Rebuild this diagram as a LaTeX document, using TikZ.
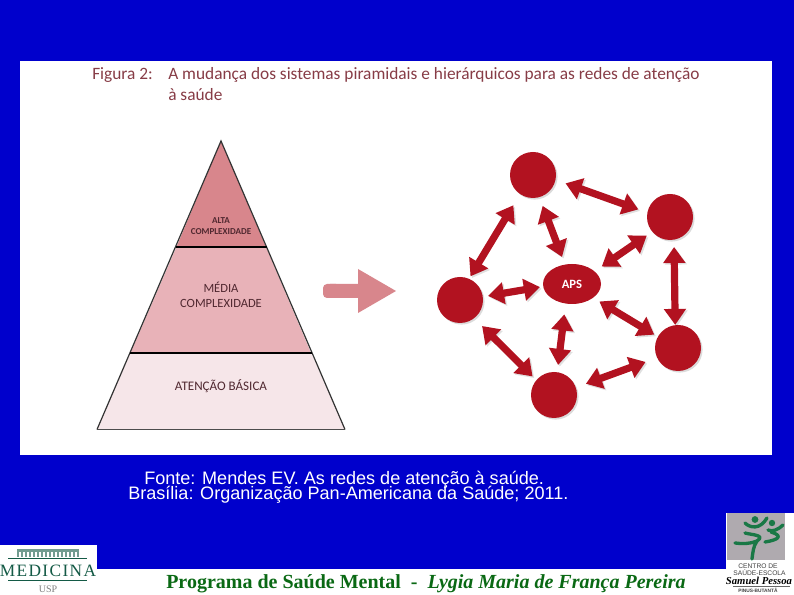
\documentclass[tikz,border=0pt]{standalone}
\usepackage{fontspec}
\setmainfont{Liberation Sans}
\newfontfamily\serifbold{Liberation Serif}
\newfontfamily\figfont{Carlito}
\usetikzlibrary{arrows.meta,shapes.geometric}
\definecolor{slideblue}{RGB}{0,0,204}
\definecolor{netred}{RGB}{178,18,32}
\definecolor{altapink}{RGB}{216,134,140}
\definecolor{mediapink}{RGB}{232,178,184}
\definecolor{basepink}{RGB}{246,230,233}
\definecolor{titlemaroon}{RGB}{135,60,70}
\definecolor{pyrtext}{RGB}{80,40,48}
\definecolor{footgreen}{RGB}{10,105,20}
\definecolor{logogreen}{RGB}{20,90,70}
\definecolor{logogray}{RGB}{175,170,175}
\definecolor{sportgreen}{RGB}{25,120,70}
\tikzset{
  hub/.style={circle,fill=netred,minimum size=34.5pt,inner sep=0pt,outer sep=0pt,
    preaction={fill=black,opacity=.14,transform canvas={shift={(1.2pt,-1.2pt)}}}},
  aps/.style={ellipse,fill=netred,minimum width=43.5pt,minimum height=30pt,inner sep=0pt,outer sep=0pt,text=white,font=\figfont\bfseries\fontsize{9.5pt}{10pt}\selectfont},
  link/.style={draw=netred,line width=5.4pt,
    {Triangle[width=16pt,length=12pt]}-{Triangle[width=16pt,length=12pt]},
    preaction={draw=black,opacity=.12,transform canvas={shift={(1.2pt,-1.2pt)}}}},
  pyrlabel/.style={text=pyrtext,align=center,font=\figfont},
  divider/.style={black,line width=1.3pt},
  titletext/.style={anchor=base west,inner sep=0pt,text=titlemaroon,font=\figfont\fontsize{13pt}{15pt}\selectfont},
  sourcetext/.style={anchor=base west,inner sep=0pt,text=white,font=\fontsize{13.55pt}{15pt}\selectfont},
  foottext/.style={anchor=base west,inner sep=0pt,text=footgreen},
  logotext/.style={inner sep=0pt,text=logogreen},
  smalllogo/.style={inner sep=0pt,text=black!75,font=\fontsize{5pt}{5.5pt}\selectfont},
  runner/.style={draw=sportgreen,line width=2.5pt,line cap=round,line join=round},
}
\begin{document}
\begin{tikzpicture}[x=0.75pt,y=-0.75pt]
\useasboundingbox (0,0) rectangle (794,595);
\fill[slideblue] (0,0) rectangle (794,595);
\fill[white] (20,61) rectangle (772,455);
% title
\node[titletext] (figlabel) at (92,79.5) {Figura 2:};
\node[titletext] (title1) at (168,79.5) {A mudança dos sistemas piramidais e hierárquicos para as redes de atenção};
\node[titletext] (title2) at (168,100.5) {à saúde};
% pyramid
\fill[basepink] (97,429) -- (130.5,353) -- (311,353) -- (345,429) -- cycle;
\fill[mediapink] (130.5,353) -- (176.5,247) -- (266,247) -- (311,353) -- cycle;
\fill[altapink] (176.5,247) -- (221,141) -- (266,247) -- cycle;
\draw[black!80,line width=0.9pt,line join=miter] (97,429.5) -- (221,141) -- (345,429.5);
\draw[black!70,line width=1.1pt] (97,429.5) -- (345,429.5);
\draw[divider] (176,247) -- (266.5,247);
\draw[divider] (130,353) -- (311.5,353);
\node[pyrlabel,font=\figfont\bfseries\fontsize{6.8pt}{8.5pt}\selectfont] (alta) at (221,226) {ALTA\\COMPLEXIDADE};
\node[pyrlabel,font=\figfont\fontsize{9.4pt}{11.3pt}\selectfont] (media) at (221,295) {MÉDIA\\COMPLEXIDADE};
\node[pyrlabel,font=\figfont\fontsize{9.8pt}{11pt}\selectfont] (basica) at (221,386) {ATENÇÃO BÁSICA};
% big arrow
\fill[altapink,rounded corners=3pt] (340,284) -- (323,284) -- (323,298) -- (340,298) -- cycle;
\fill[altapink] (330,284) -- (358,284) -- (358,269) -- (396,291) -- (358,313) -- (358,298) -- (330,298) -- cycle;
% network
\node[hub] (top) at (533,175) {};
\node[hub] (rt) at (670,217) {};
\node[hub] (rb) at (678,348) {};
\node[hub] (bot) at (554,395) {};
\node[hub] (lft) at (460,300) {};
\node[aps] (apsn) at (572,284) {APS};
\draw[link,shorten <=8pt,shorten >=7.2pt] (top.-12) -- (rt.169);
\draw[link,shorten <=7pt,shorten >=6.1pt] (top.-74) -- (apsn.110);
\draw[link,shorten <=9.8pt,shorten >=2.2pt] (top.-124) -- (lft.67);
\draw[link,shorten <=5.1pt,shorten >=6.5pt] (rt.-140) -- (apsn.29.5);
\draw[link,shorten <=5.5pt,shorten >=0.2pt] (rt.-80.5) -- (rb.97.4);
\draw[link,shorten <=5.5pt,shorten >=3.2pt] (apsn.-33.7) -- (rb.151.6);
\draw[link,shorten <=9.2pt,shorten >=8.1pt] (rb.-155) -- (bot.19);
\draw[link,shorten <=8.2pt,shorten >=5.5pt] (apsn.-108.4) -- (bot.82.4);
\draw[link,shorten <=2.5pt,shorten >=4pt] (apsn.185.4) -- (lft.8);
\draw[link,shorten <=8.4pt,shorten >=4pt] (lft.-52) -- (bot.140.7);
% source
\node[sourcetext] (src1) at (144,485) {Fonte: Mendes EV. As redes de atenção à saúde.};
\node[sourcetext] (src2) at (128,500) {Brasília: Organização Pan-Americana da Saúde; 2011.};
% footer
\fill[white] (0,569) rectangle (794,595);
\fill[white] (0,545) rectangle (97,595);
\fill[white] (726,513) rectangle (794,595);
\node[foottext] (foot) at (166,589) {\serifbold\fontsize{15pt}{17pt}\selectfont\bfseries Programa de Saúde Mental\ \ -\ \ \itshape Lygia Maria de França Pereira};
% left logo
\fill[logogreen!60] (17,549.5) rectangle (79,557);
\foreach \wx in {19,23,...,75}{\fill[white] (\wx,552) rectangle (\wx+1.6,557);}
\draw[logogreen,line width=0.7pt] (8,558.5) -- (87,558.5);
\node[logotext] (medicina) at (48,571) {\serifbold\fontsize{13pt}{14pt}\selectfont\addfontfeature{LetterSpace=8}MEDICINA};
\draw[logogreen,line width=0.7pt] (8,580) -- (87,580);
\node[logotext,text=black!50] (usp) at (48,589) {\serifbold\fontsize{7.5pt}{8pt}\selectfont USP};
% right logo
\fill[logogray] (727,513) rectangle (785,560);
\fill[sportgreen] (755,519.5) circle (3.4);
\fill[sportgreen] (772,523) circle (3.2);
\draw[runner] (745,523) .. controls (750,528) and (760,530) .. (767,518);
\draw[runner] (745,533) .. controls (752,535) and (766,535) .. (757,541) .. controls (750,544) and (742,544) .. (735,543);
\draw[runner] (757,541) .. controls (753,547) and (753,552) .. (752,559);
\draw[runner] (768,530) .. controls (772,532) and (778,530) .. (783,525);
\draw[runner] (771,532) .. controls (784,536) and (778,540) .. (765,542);
\node[smalllogo] (centro) at (758,566) {CENTRO DE};
\node[smalllogo] (escola) at (759.5,572.7) {SAÚDE-ESCOLA};
\node[inner sep=0pt,text=black,font=\serifbold\itshape\bfseries\fontsize{8pt}{8.5pt}\selectfont] (samuel) at (759,581) {Samuel Pessoa};
\draw[black!60,line width=0.4pt] (733,586) -- (790,586);
\node[smalllogo,font=\fontsize{3.6pt}{4pt}\selectfont\bfseries] (butanta) at (758,590) {PINUS-BUTANTÃ};
\end{tikzpicture}
\end{document}
